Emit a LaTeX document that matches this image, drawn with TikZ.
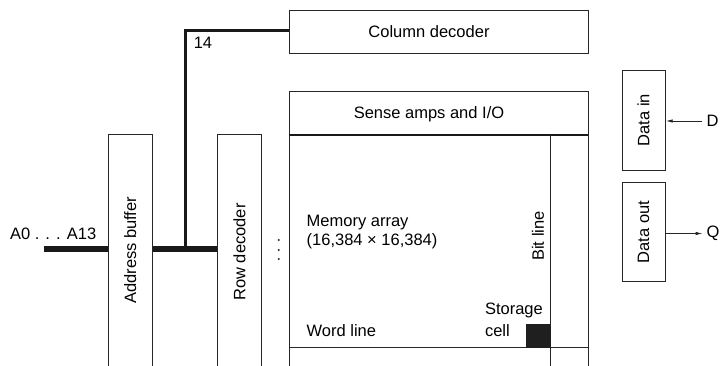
\documentclass[tikz,border=0pt]{standalone}
\usepackage{fontspec}
\setmainfont{Liberation Sans}
\usetikzlibrary{arrows.meta,calc}
\begin{document}
\begin{tikzpicture}[x=1pt,y=-1pt,
  every node/.style={inner sep=0pt,outer sep=0pt,font=\fontsize{16.5}{19}\selectfont},
  box/.style={draw=black!85,line width=0.9pt,rectangle,inner sep=0pt},
  thin/.style={draw=black!85,line width=0.9pt},
  bus/.style={draw=black!90,line width=5.7pt},
  addr/.style={draw=black!90,line width=2.7pt},
  arr/.style={draw=black!85,line width=0.9pt,-{Latex[length=7pt,width=3.5pt]}},
  lbl/.style={anchor=center},
  vlbl/.style={anchor=center,rotate=90}]
\useasboundingbox (0,0) rectangle (726,366);
\clip (0,0) rectangle (726,366);
% boxes
\node[box,minimum width=299pt,minimum height=43pt] (coldec) at (438.8,31.5) {};
\node[lbl] (coldectext) at (429,31.5) {Column decoder};
\node[box,minimum width=299pt,minimum height=44pt] (sense) at (438.8,113) {};
\node[lbl] (sensetext) at (429,114) {Sense amps and I/O};
\node[box,minimum width=299pt,minimum height=265pt] (mem) at (438.8,267.5) {};
\draw[draw=black!90,line width=2pt] (sense.south west) -- (sense.south east);
\node[box,minimum width=44.4pt,minimum height=266pt] (addrbuf) at (130.5,267.3) {};
\node[vlbl] (addrbuftext) at (130.2,250.3) {Address buffer};
\node[box,minimum width=44.4pt,minimum height=266pt] (rowdec) at (239.2,267.3) {};
\node[vlbl] (rowdectext) at (239.5,252) {Row decoder};
\node[box,minimum width=43.4pt,minimum height=100pt] (datain) at (644,120) {};
\node[vlbl] (dataintext) at (643.5,120) {Data in};
\node[box,minimum width=43.4pt,minimum height=99pt] (dataout) at (644,232.2) {};
\node[vlbl] (dataouttext) at (643.5,232.2) {Data out};
% memory array internals
\coordinate (bltop) at (550.7,135);
\coordinate (blbot) at (550.7,380);
\coordinate (wlleft) at (289.3,347.7);
\coordinate (wlright) at (588.3,347.7);
\draw[thin] (bltop) -- (blbot);
\draw[thin] (wlleft) -- (wlright);
\fill[black!88] (526,324) rectangle (550.7,347.7);
\node[anchor=base west] (memt1) at (306.7,226.7) {Memory array};
\node[anchor=base west] (memt2) at (306.7,245.7) {(16,384 × 16,384)};
\node[anchor=base west] (wordline) at (306.7,336.7) {Word line};
\node[anchor=base west] (storage) at (485,315) {Storage};
\node[anchor=base west] (cell) at (485,336) {cell};
\node[vlbl] (bitline) at (538,236) {Bit line};
% dots
\foreach \yy in {240,250,259} \fill[black!85] (278.7,\yy) circle (1.1pt);
% address bus
\node[anchor=base west] (alabel) at (10,240) {A0 . . . A13};
\coordinate (busstart) at (44.3,248.8);
\coordinate (junction) at (185.3,248.8);
\coordinate (cdin) at (coldec.west |- 0,30.3);
\draw[bus] (busstart) -- (addrbuf.west |- busstart);
\draw[bus] (addrbuf.east |- busstart) -- (rowdec.west |- busstart);
\draw[addr] (junction) |- (cdin);
\node[lbl] (fourteen) at (203,43) {14};
% data in/out
\node[lbl] (dlabel) at (712.5,121) {D};
\node[lbl] (qlabel) at (713,233.5) {Q};
\draw[arr] (dlabel.west) ++(-5,0) coordinate (dstart) -- (datain.east |- dstart);
\draw[arr] (dataout.east |- qlabel) -- ($(qlabel.west)+(-4,0)$);
\end{tikzpicture}
\end{document}
